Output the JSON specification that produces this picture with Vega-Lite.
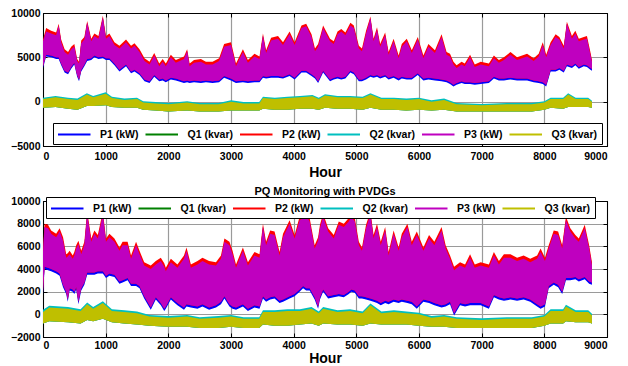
{
"$schema":"https://vega.github.io/schema/vega-lite/v6.json",
"padding":{"left":10,"top":7,"right":5,"bottom":0},
"spacing":5,
"config":{"font":"Liberation Sans","view":{"stroke":"black","strokeWidth":1},
"axis":{"labelFont":"Liberation Sans","labelFontSize":10.5,"labelFontWeight":"bold","labelColor":"black","titleFont":"Liberation Sans","titleFontSize":14,"titleFontWeight":"bold","titleColor":"black","domainColor":"black","tickColor":"black","gridColor":"#9a9a9a","gridWidth":1.2,"tickSize":-4,"labelPadding":7},
"axisX":{"labelPadding":9},
"title":{"font":"Liberation Sans","fontSize":11,"fontWeight":"bold","color":"black","offset":-1}},
"datasets":{
"tP":[{"h":0,"lo1":3800,"lo":4000,"hi":6800,"hi2":7000},{"h":50,"lo1":5100,"lo":5300,"hi":7900,"hi2":8300},{"h":130,"lo1":5000,"lo":5200,"hi":7700,"hi2":8000},{"h":210,"lo1":4800,"lo":5000,"hi":7500,"hi2":7800},{"h":250,"lo1":4800,"lo":5000,"hi":8600,"hi2":8800},{"h":290,"lo1":4100,"lo":4300,"hi":6700,"hi2":7000},{"h":345,"lo1":3300,"lo":3500,"hi":5600,"hi2":5900},{"h":400,"lo1":3100,"lo":3300,"hi":5300,"hi2":5600},{"h":450,"lo1":3700,"lo":3900,"hi":5900,"hi2":6200},{"h":500,"lo1":4200,"lo":4400,"hi":6200,"hi2":6500},{"h":545,"lo1":2800,"lo":3000,"hi":4600,"hi2":4800},{"h":575,"lo1":2300,"lo":2500,"hi":4300,"hi2":4500},{"h":610,"lo1":3400,"lo":3600,"hi":6600,"hi2":6900},{"h":660,"lo1":4000,"lo":4200,"hi":7000,"hi2":7300},{"h":705,"lo1":4600,"lo":4800,"hi":8900,"hi2":9100},{"h":770,"lo1":4700,"lo":4900,"hi":6800,"hi2":7100},{"h":820,"lo1":5000,"lo":5200,"hi":7400,"hi2":7700},{"h":885,"lo1":4800,"lo":5000,"hi":7100,"hi2":7400},{"h":955,"lo1":4900,"lo":5100,"hi":9500,"hi2":9700},{"h":1005,"lo1":4700,"lo":4900,"hi":7100,"hi2":7400},{"h":1060,"lo1":4700,"lo":4900,"hi":7400,"hi2":7700},{"h":1140,"lo1":4100,"lo":4300,"hi":6400,"hi2":6700},{"h":1220,"lo1":3400,"lo":3600,"hi":6000,"hi2":6300},{"h":1325,"lo1":4000,"lo":4200,"hi":6700,"hi2":7000},{"h":1405,"lo1":3200,"lo":3400,"hi":6000,"hi2":6300},{"h":1460,"lo1":3400,"lo":3600,"hi":6300,"hi2":6600},{"h":1540,"lo1":3000,"lo":3200,"hi":5600,"hi2":5900},{"h":1620,"lo1":2300,"lo":2500,"hi":4600,"hi2":4900},{"h":1700,"lo1":2100,"lo":2300,"hi":4200,"hi2":4500},{"h":1775,"lo1":2800,"lo":3000,"hi":5200,"hi2":5500},{"h":1855,"lo1":2300,"lo":2500,"hi":4000,"hi2":4300},{"h":1910,"lo1":2400,"lo":2600,"hi":4500,"hi2":4800},{"h":1960,"lo1":2200,"lo":2400,"hi":4000,"hi2":4300},{"h":2040,"lo1":2500,"lo":2700,"hi":5000,"hi2":5300},{"h":2120,"lo1":2400,"lo":2600,"hi":4400,"hi2":4700},{"h":2250,"lo1":2100,"lo":2300,"hi":4800,"hi2":5100},{"h":2300,"lo1":2200,"lo":2400,"hi":5700,"hi2":5900},{"h":2340,"lo1":2100,"lo":2300,"hi":4000,"hi2":4300},{"h":2410,"lo1":2200,"lo":2400,"hi":4400,"hi2":4700},{"h":2520,"lo1":2100,"lo":2300,"hi":4500,"hi2":4800},{"h":2600,"lo1":2200,"lo":2400,"hi":4200,"hi2":4500},{"h":2705,"lo1":2100,"lo":2300,"hi":4200,"hi2":4500},{"h":2810,"lo1":2200,"lo":2400,"hi":4600,"hi2":4900},{"h":2890,"lo1":2700,"lo":2900,"hi":6200,"hi2":6500},{"h":3000,"lo1":2400,"lo":2600,"hi":6400,"hi2":6700},{"h":3080,"lo1":2100,"lo":2300,"hi":4000,"hi2":4300},{"h":3190,"lo1":2200,"lo":2400,"hi":5600,"hi2":5900},{"h":3270,"lo1":2100,"lo":2300,"hi":4400,"hi2":4700},{"h":3375,"lo1":2200,"lo":2400,"hi":5100,"hi2":5400},{"h":3455,"lo1":2200,"lo":2400,"hi":4800,"hi2":5100},{"h":3510,"lo1":2700,"lo":2900,"hi":7400,"hi2":7700},{"h":3560,"lo1":2600,"lo":2800,"hi":5500,"hi2":5800},{"h":3640,"lo1":2700,"lo":2900,"hi":6900,"hi2":7200},{"h":3750,"lo1":2700,"lo":2900,"hi":7100,"hi2":7400},{"h":3830,"lo1":2600,"lo":2800,"hi":6400,"hi2":6700},{"h":3935,"lo1":2900,"lo":3100,"hi":7600,"hi2":7900},{"h":4015,"lo1":2500,"lo":2700,"hi":6400,"hi2":6700},{"h":4125,"lo1":3300,"lo":3500,"hi":8300,"hi2":8600},{"h":4200,"lo1":3300,"lo":3500,"hi":8500,"hi2":8800},{"h":4285,"lo1":2900,"lo":3100,"hi":7300,"hi2":7600},{"h":4340,"lo1":2600,"lo":2800,"hi":5700,"hi2":6000},{"h":4390,"lo1":2100,"lo":2300,"hi":6200,"hi2":6500},{"h":4470,"lo1":3300,"lo":3500,"hi":8300,"hi2":8600},{"h":4580,"lo1":2300,"lo":2500,"hi":6800,"hi2":7100},{"h":4640,"lo1":2500,"lo":2700,"hi":6500,"hi2":6800},{"h":4700,"lo1":2600,"lo":2800,"hi":7600,"hi2":7900},{"h":4760,"lo1":2500,"lo":2700,"hi":7900,"hi2":8200},{"h":4825,"lo1":2600,"lo":2800,"hi":7500,"hi2":7800},{"h":4905,"lo1":3300,"lo":3500,"hi":8600,"hi2":8900},{"h":4960,"lo1":3100,"lo":3300,"hi":8300,"hi2":8600},{"h":5040,"lo1":2300,"lo":2500,"hi":6000,"hi2":6300},{"h":5090,"lo1":2300,"lo":2500,"hi":5700,"hi2":6000},{"h":5155,"lo1":2500,"lo":2700,"hi":7700,"hi2":8000},{"h":5225,"lo1":2800,"lo":3000,"hi":9400,"hi2":9600},{"h":5275,"lo1":2700,"lo":2900,"hi":6800,"hi2":7100},{"h":5330,"lo1":2800,"lo":3000,"hi":8100,"hi2":8400},{"h":5380,"lo1":2600,"lo":2800,"hi":6200,"hi2":6500},{"h":5460,"lo1":2800,"lo":3000,"hi":7500,"hi2":7800},{"h":5515,"lo1":2500,"lo":2700,"hi":5300,"hi2":5600},{"h":5595,"lo1":2700,"lo":2900,"hi":6800,"hi2":7100},{"h":5675,"lo1":2400,"lo":2600,"hi":4900,"hi2":5200},{"h":5725,"lo1":2600,"lo":2800,"hi":6200,"hi2":6500},{"h":5805,"lo1":2500,"lo":2700,"hi":6800,"hi2":7100},{"h":5885,"lo1":2500,"lo":2700,"hi":5500,"hi2":5800},{"h":5980,"lo1":3000,"lo":3200,"hi":7000,"hi2":7300},{"h":6070,"lo1":2400,"lo":2600,"hi":4900,"hi2":5200},{"h":6150,"lo1":2500,"lo":2700,"hi":6200,"hi2":6500},{"h":6255,"lo1":2400,"lo":2600,"hi":5500,"hi2":5800},{"h":6360,"lo1":2300,"lo":2500,"hi":7300,"hi2":7600},{"h":6440,"lo1":2200,"lo":2400,"hi":5300,"hi2":5600},{"h":6495,"lo1":2000,"lo":2200,"hi":5100,"hi2":5400},{"h":6550,"lo1":1700,"lo":1900,"hi":4200,"hi2":4500},{"h":6600,"lo1":1900,"lo":2100,"hi":3800,"hi2":4100},{"h":6680,"lo1":2100,"lo":2300,"hi":4200,"hi2":4500},{"h":6730,"lo1":2000,"lo":2200,"hi":4000,"hi2":4300},{"h":6815,"lo1":2000,"lo":2200,"hi":5000,"hi2":5300},{"h":6890,"lo1":1900,"lo":2100,"hi":3900,"hi2":4200},{"h":6985,"lo1":2000,"lo":2200,"hi":4200,"hi2":4500},{"h":7115,"lo1":2100,"lo":2300,"hi":4000,"hi2":4300},{"h":7195,"lo1":2600,"lo":2800,"hi":4900,"hi2":5200},{"h":7275,"lo1":2400,"lo":2600,"hi":4400,"hi2":4700},{"h":7355,"lo1":2400,"lo":2600,"hi":4700,"hi2":5000},{"h":7460,"lo1":2500,"lo":2700,"hi":5300,"hi2":5600},{"h":7565,"lo1":2400,"lo":2600,"hi":4700,"hi2":5000},{"h":7725,"lo1":2400,"lo":2600,"hi":5100,"hi2":5400},{"h":7830,"lo1":2200,"lo":2400,"hi":4600,"hi2":4900},{"h":7910,"lo1":2100,"lo":2300,"hi":5100,"hi2":5400},{"h":7975,"lo1":2000,"lo":2200,"hi":6400,"hi2":6700},{"h":8030,"lo1":1700,"lo":1900,"hi":5000,"hi2":5300},{"h":8100,"lo1":3400,"lo":3600,"hi":6400,"hi2":6700},{"h":8180,"lo1":3400,"lo":3600,"hi":7300,"hi2":7600},{"h":8240,"lo1":3600,"lo":3800,"hi":7000,"hi2":7300},{"h":8310,"lo1":3300,"lo":3500,"hi":6000,"hi2":6300},{"h":8360,"lo1":4000,"lo":4200,"hi":8800,"hi2":9000},{"h":8440,"lo1":3800,"lo":4000,"hi":7100,"hi2":7400},{"h":8495,"lo1":4100,"lo":4300,"hi":7700,"hi2":8000},{"h":8550,"lo1":3700,"lo":3900,"hi":6800,"hi2":7100},{"h":8630,"lo1":4000,"lo":4200,"hi":7000,"hi2":7300},{"h":8680,"lo1":3900,"lo":4100,"hi":7100,"hi2":7400},{"h":8735,"lo1":3600,"lo":3800,"hi":5300,"hi2":5600},{"h":8760,"lo1":3500,"lo":3700,"hi":4500,"hi2":4700}],
"tQ":[{"h":0,"qlo":-700,"qhi":300,"qhi2":450},{"h":200,"qlo":-600,"qhi":500,"qhi2":650},{"h":400,"qlo":-800,"qhi":300,"qhi2":450},{"h":550,"qlo":-900,"qhi":200,"qhi2":350},{"h":700,"qlo":-500,"qhi":800,"qhi2":950},{"h":800,"qlo":-500,"qhi":500,"qhi2":650},{"h":1000,"qlo":-400,"qhi":900,"qhi2":1050},{"h":1100,"qlo":-600,"qhi":400,"qhi2":550},{"h":1300,"qlo":-700,"qhi":200,"qhi2":350},{"h":1500,"qlo":-700,"qhi":300,"qhi2":450},{"h":1600,"qlo":-900,"qhi":-100,"qhi2":50},{"h":1800,"qlo":-1000,"qhi":-200,"qhi2":-50},{"h":2000,"qlo":-1100,"qhi":-300,"qhi2":-150},{"h":2300,"qlo":-1000,"qhi":-100,"qhi2":50},{"h":2500,"qlo":-1100,"qhi":-300,"qhi2":-150},{"h":2800,"qlo":-1100,"qhi":-300,"qhi2":-150},{"h":3000,"qlo":-1000,"qhi":0,"qhi2":150},{"h":3200,"qlo":-1000,"qhi":-200,"qhi2":-50},{"h":3450,"qlo":-1000,"qhi":-200,"qhi2":-50},{"h":3510,"qlo":-800,"qhi":400,"qhi2":550},{"h":3700,"qlo":-900,"qhi":300,"qhi2":450},{"h":3900,"qlo":-900,"qhi":400,"qhi2":550},{"h":4100,"qlo":-800,"qhi":500,"qhi2":650},{"h":4300,"qlo":-800,"qhi":600,"qhi2":750},{"h":4400,"qlo":-900,"qhi":300,"qhi2":450},{"h":4500,"qlo":-700,"qhi":700,"qhi2":850},{"h":4700,"qlo":-800,"qhi":500,"qhi2":650},{"h":4900,"qlo":-800,"qhi":500,"qhi2":650},{"h":5100,"qlo":-900,"qhi":400,"qhi2":550},{"h":5225,"qlo":-700,"qhi":800,"qhi2":950},{"h":5400,"qlo":-900,"qhi":300,"qhi2":450},{"h":5600,"qlo":-900,"qhi":300,"qhi2":450},{"h":5800,"qlo":-1000,"qhi":200,"qhi2":350},{"h":6000,"qlo":-900,"qhi":300,"qhi2":450},{"h":6200,"qlo":-1000,"qhi":0,"qhi2":150},{"h":6400,"qlo":-900,"qhi":200,"qhi2":350},{"h":6600,"qlo":-1100,"qhi":-300,"qhi2":-150},{"h":7000,"qlo":-1100,"qhi":-400,"qhi2":-250},{"h":7400,"qlo":-1100,"qhi":-300,"qhi2":-150},{"h":7800,"qlo":-1100,"qhi":-300,"qhi2":-150},{"h":8000,"qlo":-900,"qhi":-100,"qhi2":50},{"h":8100,"qlo":-700,"qhi":300,"qhi2":450},{"h":8300,"qlo":-800,"qhi":300,"qhi2":450},{"h":8380,"qlo":-600,"qhi":800,"qhi2":950},{"h":8500,"qlo":-600,"qhi":300,"qhi2":450},{"h":8700,"qlo":-600,"qhi":300,"qhi2":450},{"h":8760,"qlo":-700,"qhi":0,"qhi2":100}],
"bP":[{"h":0,"lo1":1800,"lo":2000,"hi":5500,"hi2":5800},{"h":25,"lo1":4000,"lo":4200,"hi":7700,"hi2":8000},{"h":80,"lo1":3900,"lo":4100,"hi":7600,"hi2":7900},{"h":130,"lo1":3800,"lo":4000,"hi":7100,"hi2":7400},{"h":210,"lo1":3600,"lo":3800,"hi":6800,"hi2":7100},{"h":265,"lo1":3400,"lo":3600,"hi":7300,"hi2":7600},{"h":320,"lo1":2400,"lo":2600,"hi":6500,"hi2":6800},{"h":370,"lo1":1800,"lo":2000,"hi":5000,"hi2":5300},{"h":395,"lo1":1100,"lo":1300,"hi":5100,"hi2":5400},{"h":425,"lo1":2100,"lo":2300,"hi":5300,"hi2":5600},{"h":475,"lo1":2000,"lo":2200,"hi":4900,"hi2":5200},{"h":500,"lo1":1800,"lo":2000,"hi":5200,"hi2":5500},{"h":530,"lo1":2200,"lo":2400,"hi":5800,"hi2":6100},{"h":565,"lo1":900,"lo":1100,"hi":6200,"hi2":6500},{"h":610,"lo1":2100,"lo":2300,"hi":5300,"hi2":5600},{"h":660,"lo1":2600,"lo":2800,"hi":6100,"hi2":6400},{"h":705,"lo1":3500,"lo":3700,"hi":8800,"hi2":9100},{"h":770,"lo1":3500,"lo":3700,"hi":6400,"hi2":6700},{"h":820,"lo1":3500,"lo":3700,"hi":7100,"hi2":7400},{"h":875,"lo1":3600,"lo":3800,"hi":6700,"hi2":7000},{"h":955,"lo1":3600,"lo":3800,"hi":8800,"hi2":9100},{"h":1005,"lo1":3200,"lo":3400,"hi":6400,"hi2":6700},{"h":1060,"lo1":3400,"lo":3600,"hi":6800,"hi2":7100},{"h":1140,"lo1":3300,"lo":3500,"hi":6400,"hi2":6700},{"h":1220,"lo1":2700,"lo":2900,"hi":5600,"hi2":5900},{"h":1270,"lo1":2800,"lo":3000,"hi":6100,"hi2":6400},{"h":1350,"lo1":3000,"lo":3200,"hi":6100,"hi2":6400},{"h":1405,"lo1":2500,"lo":2700,"hi":4900,"hi2":5200},{"h":1485,"lo1":2500,"lo":2700,"hi":6100,"hi2":6400},{"h":1540,"lo1":2300,"lo":2500,"hi":5300,"hi2":5600},{"h":1615,"lo1":1400,"lo":1600,"hi":4300,"hi2":4600},{"h":1720,"lo1":400,"lo":600,"hi":4000,"hi2":4300},{"h":1800,"lo1":1300,"lo":1500,"hi":4400,"hi2":4700},{"h":1880,"lo1":800,"lo":1000,"hi":4700,"hi2":5000},{"h":1935,"lo1":300,"lo":500,"hi":4200,"hi2":4500},{"h":1960,"lo1":500,"lo":700,"hi":3800,"hi2":4100},{"h":2040,"lo1":1300,"lo":1500,"hi":4600,"hi2":4900},{"h":2145,"lo1":800,"lo":1000,"hi":4100,"hi2":4400},{"h":2250,"lo1":400,"lo":600,"hi":4900,"hi2":5200},{"h":2290,"lo1":700,"lo":900,"hi":5600,"hi2":5900},{"h":2360,"lo1":600,"lo":800,"hi":4100,"hi2":4400},{"h":2465,"lo1":500,"lo":700,"hi":4400,"hi2":4700},{"h":2545,"lo1":700,"lo":900,"hi":4700,"hi2":5000},{"h":2650,"lo1":400,"lo":600,"hi":4400,"hi2":4700},{"h":2760,"lo1":600,"lo":800,"hi":4300,"hi2":4600},{"h":2840,"lo1":900,"lo":1100,"hi":4900,"hi2":5200},{"h":2895,"lo1":1400,"lo":1600,"hi":6400,"hi2":6700},{"h":2975,"lo1":700,"lo":900,"hi":6100,"hi2":6400},{"h":3025,"lo1":500,"lo":700,"hi":5300,"hi2":5600},{"h":3080,"lo1":400,"lo":600,"hi":4100,"hi2":4400},{"h":3190,"lo1":700,"lo":900,"hi":5600,"hi2":5900},{"h":3270,"lo1":300,"lo":500,"hi":4300,"hi2":4600},{"h":3375,"lo1":600,"lo":800,"hi":5200,"hi2":5500},{"h":3455,"lo1":500,"lo":700,"hi":5000,"hi2":5300},{"h":3510,"lo1":1400,"lo":1600,"hi":7700,"hi2":8000},{"h":3560,"lo1":1100,"lo":1300,"hi":6100,"hi2":6400},{"h":3625,"lo1":1300,"lo":1500,"hi":7100,"hi2":7400},{"h":3695,"lo1":1400,"lo":1600,"hi":7000,"hi2":7300},{"h":3775,"lo1":1000,"lo":1200,"hi":5200,"hi2":5500},{"h":3830,"lo1":1100,"lo":1300,"hi":6800,"hi2":7100},{"h":3935,"lo1":1400,"lo":1600,"hi":8000,"hi2":8300},{"h":4015,"lo1":1600,"lo":1800,"hi":6700,"hi2":7000},{"h":4095,"lo1":2000,"lo":2200,"hi":8300,"hi2":8600},{"h":4150,"lo1":2300,"lo":2500,"hi":8500,"hi2":8800},{"h":4200,"lo1":2100,"lo":2300,"hi":8700,"hi2":9000},{"h":4255,"lo1":2100,"lo":2300,"hi":8200,"hi2":8500},{"h":4335,"lo1":1300,"lo":1500,"hi":5800,"hi2":6100},{"h":4390,"lo1":500,"lo":700,"hi":6500,"hi2":6800},{"h":4420,"lo1":1300,"lo":1500,"hi":7600,"hi2":7900},{"h":4470,"lo1":2000,"lo":2200,"hi":8600,"hi2":8900},{"h":4550,"lo1":1400,"lo":1600,"hi":7300,"hi2":7600},{"h":4640,"lo1":1500,"lo":1700,"hi":6700,"hi2":7000},{"h":4720,"lo1":1600,"lo":1800,"hi":7900,"hi2":8200},{"h":4800,"lo1":1500,"lo":1700,"hi":7700,"hi2":8000},{"h":4880,"lo1":1800,"lo":2000,"hi":8200,"hi2":8500},{"h":4920,"lo1":2000,"lo":2200,"hi":8600,"hi2":8900},{"h":4975,"lo1":1900,"lo":2100,"hi":8200,"hi2":8500},{"h":5040,"lo1":1400,"lo":1600,"hi":6100,"hi2":6400},{"h":5090,"lo1":1400,"lo":1600,"hi":5600,"hi2":5900},{"h":5155,"lo1":1300,"lo":1500,"hi":7600,"hi2":7900},{"h":5225,"lo1":1200,"lo":1400,"hi":8800,"hi2":9100},{"h":5275,"lo1":1100,"lo":1300,"hi":6700,"hi2":7000},{"h":5330,"lo1":1000,"lo":1200,"hi":7700,"hi2":8000},{"h":5390,"lo1":800,"lo":1000,"hi":6100,"hi2":6400},{"h":5460,"lo1":1000,"lo":1200,"hi":7400,"hi2":7700},{"h":5515,"lo1":900,"lo":1100,"hi":5200,"hi2":5500},{"h":5595,"lo1":1100,"lo":1300,"hi":7100,"hi2":7400},{"h":5675,"lo1":1000,"lo":1200,"hi":5600,"hi2":5900},{"h":5725,"lo1":1100,"lo":1300,"hi":6800,"hi2":7100},{"h":5815,"lo1":1000,"lo":1200,"hi":7700,"hi2":8000},{"h":5885,"lo1":900,"lo":1100,"hi":6100,"hi2":6400},{"h":5965,"lo1":500,"lo":700,"hi":7000,"hi2":7300},{"h":6070,"lo1":1100,"lo":1300,"hi":5600,"hi2":5900},{"h":6160,"lo1":1000,"lo":1200,"hi":6700,"hi2":7000},{"h":6245,"lo1":800,"lo":1000,"hi":6100,"hi2":6400},{"h":6360,"lo1":600,"lo":800,"hi":7400,"hi2":7700},{"h":6425,"lo1":700,"lo":900,"hi":5800,"hi2":6100},{"h":6495,"lo1":900,"lo":1100,"hi":4900,"hi2":5200},{"h":6560,"lo1":-100,"lo":100,"hi":3900,"hi2":4200},{"h":6655,"lo1":800,"lo":1000,"hi":4300,"hi2":4600},{"h":6735,"lo1":700,"lo":900,"hi":4100,"hi2":4400},{"h":6815,"lo1":800,"lo":1000,"hi":5000,"hi2":5300},{"h":6890,"lo1":800,"lo":1000,"hi":4100,"hi2":4400},{"h":6985,"lo1":800,"lo":1000,"hi":4300,"hi2":4600},{"h":7115,"lo1":500,"lo":700,"hi":4100,"hi2":4400},{"h":7195,"lo1":1500,"lo":1700,"hi":5200,"hi2":5500},{"h":7275,"lo1":1300,"lo":1500,"hi":4400,"hi2":4700},{"h":7355,"lo1":1200,"lo":1400,"hi":5000,"hi2":5300},{"h":7460,"lo1":1300,"lo":1500,"hi":5000,"hi2":5300},{"h":7565,"lo1":1200,"lo":1400,"hi":4700,"hi2":5000},{"h":7670,"lo1":1300,"lo":1500,"hi":4900,"hi2":5200},{"h":7775,"lo1":1100,"lo":1300,"hi":4600,"hi2":4900},{"h":7885,"lo1":700,"lo":900,"hi":4900,"hi2":5200},{"h":7940,"lo1":500,"lo":700,"hi":5500,"hi2":5800},{"h":8010,"lo1":700,"lo":900,"hi":4700,"hi2":5000},{"h":8070,"lo1":2300,"lo":2500,"hi":5800,"hi2":6100},{"h":8150,"lo1":2600,"lo":2800,"hi":7100,"hi2":7400},{"h":8220,"lo1":2400,"lo":2600,"hi":7000,"hi2":7300},{"h":8285,"lo1":1800,"lo":2000,"hi":5800,"hi2":6100},{"h":8345,"lo1":3000,"lo":3200,"hi":8300,"hi2":8600},{"h":8415,"lo1":3000,"lo":3200,"hi":7300,"hi2":7600},{"h":8495,"lo1":3100,"lo":3300,"hi":6700,"hi2":7000},{"h":8550,"lo1":2900,"lo":3100,"hi":6400,"hi2":6700},{"h":8645,"lo1":3100,"lo":3300,"hi":7600,"hi2":7900},{"h":8715,"lo1":2700,"lo":2900,"hi":5800,"hi2":6100},{"h":8760,"lo1":2600,"lo":2800,"hi":4300,"hi2":4600}],
"bQ":[{"h":0,"qlo":-800,"qhi":200,"qhi2":400},{"h":100,"qlo":-600,"qhi":600,"qhi2":750},{"h":400,"qlo":-700,"qhi":500,"qhi2":650},{"h":600,"qlo":-800,"qhi":300,"qhi2":450},{"h":705,"qlo":-500,"qhi":900,"qhi2":1050},{"h":800,"qlo":-600,"qhi":500,"qhi2":650},{"h":955,"qlo":-400,"qhi":1000,"qhi2":1150},{"h":1100,"qlo":-700,"qhi":300,"qhi2":450},{"h":1300,"qlo":-800,"qhi":200,"qhi2":350},{"h":1500,"qlo":-900,"qhi":100,"qhi2":250},{"h":1700,"qlo":-1000,"qhi":-200,"qhi2":-50},{"h":2000,"qlo":-1100,"qhi":-300,"qhi2":-150},{"h":2300,"qlo":-1100,"qhi":-200,"qhi2":-50},{"h":2500,"qlo":-1200,"qhi":-400,"qhi2":-250},{"h":2800,"qlo":-1200,"qhi":-300,"qhi2":-150},{"h":3000,"qlo":-1100,"qhi":-200,"qhi2":-50},{"h":3200,"qlo":-1200,"qhi":-400,"qhi2":-250},{"h":3450,"qlo":-1200,"qhi":-400,"qhi2":-250},{"h":3510,"qlo":-900,"qhi":200,"qhi2":350},{"h":3700,"qlo":-1000,"qhi":200,"qhi2":350},{"h":3900,"qlo":-1000,"qhi":300,"qhi2":450},{"h":4100,"qlo":-900,"qhi":300,"qhi2":450},{"h":4285,"qlo":-800,"qhi":500,"qhi2":650},{"h":4400,"qlo":-1000,"qhi":100,"qhi2":250},{"h":4470,"qlo":-800,"qhi":500,"qhi2":650},{"h":4700,"qlo":-900,"qhi":200,"qhi2":350},{"h":4900,"qlo":-900,"qhi":300,"qhi2":450},{"h":5100,"qlo":-1000,"qhi":100,"qhi2":250},{"h":5225,"qlo":-800,"qhi":800,"qhi2":950},{"h":5400,"qlo":-900,"qhi":100,"qhi2":250},{"h":5600,"qlo":-900,"qhi":200,"qhi2":350},{"h":5800,"qlo":-900,"qhi":100,"qhi2":250},{"h":6000,"qlo":-1000,"qhi":0,"qhi2":150},{"h":6200,"qlo":-1100,"qhi":-300,"qhi2":-150},{"h":6400,"qlo":-1100,"qhi":-200,"qhi2":-50},{"h":6600,"qlo":-1200,"qhi":-400,"qhi2":-250},{"h":7000,"qlo":-1200,"qhi":-500,"qhi2":-350},{"h":7400,"qlo":-1200,"qhi":-400,"qhi2":-250},{"h":7800,"qlo":-1200,"qhi":-400,"qhi2":-250},{"h":8000,"qlo":-1000,"qhi":-200,"qhi2":-50},{"h":8100,"qlo":-800,"qhi":300,"qhi2":450},{"h":8300,"qlo":-800,"qhi":300,"qhi2":450},{"h":8345,"qlo":-600,"qhi":700,"qhi2":850},{"h":8500,"qlo":-700,"qhi":200,"qhi2":350},{"h":8700,"qlo":-700,"qhi":200,"qhi2":350},{"h":8760,"qlo":-800,"qhi":-100,"qhi2":50}]
},
"resolve":{"scale":{"color":"independent"},"legend":{"color":"independent"}},
"vconcat":[
{"name":"top","width":564,"height":133,
"resolve":{"axis":{"x":"independent","y":"independent"}},
"layer":[
{"data":{"name":"tP"},"mark":{"type":"point","opacity":0},
"encoding":{"x":{"field":"h","type":"quantitative","scale":{"domain":[0,9000],"nice":false},"axis":{"values":[0,1000,2000,3000,4000,5000,6000,7000,8000,9000],"format":"d","grid":true,"title":"Hour","titlePadding":4}},
"y":{"field":"hi","type":"quantitative","scale":{"domain":[-5000,10000],"nice":false},"axis":{"values":[-5000,0,5000,10000],"format":"d","grid":true,"title":null}}}},
{"data":{"name":"tP"},"mark":{"type":"point","opacity":0},
"encoding":{"x":{"field":"h","type":"quantitative","scale":{"domain":[0,9000],"nice":false},"axis":{"orient":"top","values":[0,1000,2000,3000,4000,5000,6000,7000,8000,9000],"grid":false,"labels":false,"title":null}},
"y":{"field":"hi","type":"quantitative","scale":{"domain":[-5000,10000],"nice":false},"axis":{"orient":"right","values":[-5000,0,5000,10000],"grid":false,"labels":false,"title":null}}}},
{"data":{"name":"tP"},"mark":{"type":"area"},"encoding":{"x":{"field":"h","type":"quantitative","scale":{"domain":[0,9000],"nice":false},"axis":null},"y":{"field":"lo1","type":"quantitative","scale":{"domain":[-5000,10000],"nice":false},"axis":null},"y2":{"field":"hi"},
"color":{"datum":"P1 (kW)","type":"nominal","scale":{"domain":["P1 (kW)","Q1 (kvar)","P2 (kW)","Q2 (kvar)","P3 (kW)","Q3 (kvar)"],"range":["#0000ff","#008000","#ff0000","#00bfbf","#bf00bf","#bfbf00"]},
"legend":{"orient":"none","legendX":10,"legendY":110,"direction":"horizontal","columns":6,"title":null,"symbolType":"M-1,0L4,0","symbolSize":169,"symbolStrokeWidth":2,"labelFont":"Liberation Sans","labelFontSize":10.5,"labelFontWeight":"bold","labelColor":"black","labelOffset":28,"columnPadding":2.5,"strokeColor":"black","fillColor":"white","padding":4,"encode":{"symbols":{"update":{"stroke":{"scale":"top_color","field":"value"},"strokeWidth":{"value":2}}}}}}}},
{"data":{"name":"tP"},"mark":{"type":"area"},"encoding":{"x":{"field":"h","type":"quantitative","scale":{"domain":[0,9000],"nice":false},"axis":null},"y":{"field":"lo","type":"quantitative","scale":{"domain":[-5000,10000],"nice":false},"axis":null},"y2":{"field":"hi2"},"color":{"datum":"P2 (kW)","type":"nominal"}}},
{"data":{"name":"tP"},"mark":{"type":"area"},"encoding":{"x":{"field":"h","type":"quantitative","scale":{"domain":[0,9000],"nice":false},"axis":null},"y":{"field":"lo","type":"quantitative","scale":{"domain":[-5000,10000],"nice":false},"axis":null},"y2":{"field":"hi"},"color":{"datum":"P3 (kW)","type":"nominal"}}},
{"data":{"name":"tQ"},"mark":{"type":"area"},"encoding":{"x":{"field":"h","type":"quantitative","scale":{"domain":[0,9000],"nice":false},"axis":null},"y":{"field":"qlo","type":"quantitative","scale":{"domain":[-5000,10000],"nice":false},"axis":null},"y2":{"field":"qhi"},"color":{"datum":"Q1 (kvar)","type":"nominal"}}},
{"data":{"name":"tQ"},"mark":{"type":"area"},"encoding":{"x":{"field":"h","type":"quantitative","scale":{"domain":[0,9000],"nice":false},"axis":null},"y":{"field":"qlo","type":"quantitative","scale":{"domain":[-5000,10000],"nice":false},"axis":null},"y2":{"field":"qhi2"},"color":{"datum":"Q2 (kvar)","type":"nominal"}}},
{"data":{"name":"tQ"},"mark":{"type":"area"},"encoding":{"x":{"field":"h","type":"quantitative","scale":{"domain":[0,9000],"nice":false},"axis":null},"y":{"field":"qlo","type":"quantitative","scale":{"domain":[-5000,10000],"nice":false},"axis":null},"y2":{"field":"qhi"},"color":{"datum":"Q3 (kvar)","type":"nominal"}}}
]},
{"name":"bot","width":564,"height":136,"title":"PQ Monitoring with PVDGs",
"resolve":{"axis":{"x":"independent","y":"independent"}},
"layer":[
{"data":{"name":"bP"},"mark":{"type":"point","opacity":0},
"encoding":{"x":{"field":"h","type":"quantitative","scale":{"domain":[0,9000],"nice":false},"axis":{"values":[0,1000,2000,3000,4000,5000,6000,7000,8000,9000],"format":"d","grid":true,"title":"Hour","titlePadding":1,"labelPadding":7}},
"y":{"field":"hi","type":"quantitative","scale":{"domain":[-2000,10000],"nice":false},"axis":{"values":[-2000,0,2000,4000,6000,8000,10000],"format":"d","grid":true,"title":null}}}},
{"data":{"name":"bP"},"mark":{"type":"point","opacity":0},
"encoding":{"x":{"field":"h","type":"quantitative","scale":{"domain":[0,9000],"nice":false},"axis":{"orient":"top","values":[0,1000,2000,3000,4000,5000,6000,7000,8000,9000],"grid":false,"labels":false,"title":null}},
"y":{"field":"hi","type":"quantitative","scale":{"domain":[-2000,10000],"nice":false},"axis":{"orient":"right","values":[-2000,0,2000,4000,6000,8000,10000],"grid":false,"labels":false,"title":null}}}},
{"data":{"name":"bP"},"mark":{"type":"area"},"encoding":{"x":{"field":"h","type":"quantitative","scale":{"domain":[0,9000],"nice":false},"axis":null},"y":{"field":"lo1","type":"quantitative","scale":{"domain":[-2000,10000],"nice":false},"axis":null},"y2":{"field":"hi"},
"color":{"datum":"P1 (kW)","type":"nominal","scale":{"domain":["P1 (kW)","Q1 (kvar)","P2 (kW)","Q2 (kvar)","P3 (kW)","Q3 (kvar)"],"range":["#0000ff","#008000","#ff0000","#00bfbf","#bf00bf","#bfbf00"]},
"legend":{"orient":"none","legendX":3,"legendY":-4,"direction":"horizontal","columns":6,"title":null,"symbolType":"M-1,0L4,0","symbolSize":169,"symbolStrokeWidth":2,"labelFont":"Liberation Sans","labelFontSize":10.5,"labelFontWeight":"bold","labelColor":"black","labelOffset":28,"columnPadding":2.5,"strokeColor":"black","fillColor":"white","padding":4,"encode":{"symbols":{"update":{"stroke":{"scale":"bot_color","field":"value"},"strokeWidth":{"value":2}}}}}}}},
{"data":{"name":"bP"},"mark":{"type":"area"},"encoding":{"x":{"field":"h","type":"quantitative","scale":{"domain":[0,9000],"nice":false},"axis":null},"y":{"field":"lo","type":"quantitative","scale":{"domain":[-2000,10000],"nice":false},"axis":null},"y2":{"field":"hi2"},"color":{"datum":"P2 (kW)","type":"nominal"}}},
{"data":{"name":"bP"},"mark":{"type":"area"},"encoding":{"x":{"field":"h","type":"quantitative","scale":{"domain":[0,9000],"nice":false},"axis":null},"y":{"field":"lo","type":"quantitative","scale":{"domain":[-2000,10000],"nice":false},"axis":null},"y2":{"field":"hi"},"color":{"datum":"P3 (kW)","type":"nominal"}}},
{"data":{"name":"bQ"},"mark":{"type":"area"},"encoding":{"x":{"field":"h","type":"quantitative","scale":{"domain":[0,9000],"nice":false},"axis":null},"y":{"field":"qlo","type":"quantitative","scale":{"domain":[-2000,10000],"nice":false},"axis":null},"y2":{"field":"qhi"},"color":{"datum":"Q1 (kvar)","type":"nominal"}}},
{"data":{"name":"bQ"},"mark":{"type":"area"},"encoding":{"x":{"field":"h","type":"quantitative","scale":{"domain":[0,9000],"nice":false},"axis":null},"y":{"field":"qlo","type":"quantitative","scale":{"domain":[-2000,10000],"nice":false},"axis":null},"y2":{"field":"qhi2"},"color":{"datum":"Q2 (kvar)","type":"nominal"}}},
{"data":{"name":"bQ"},"mark":{"type":"area"},"encoding":{"x":{"field":"h","type":"quantitative","scale":{"domain":[0,9000],"nice":false},"axis":null},"y":{"field":"qlo","type":"quantitative","scale":{"domain":[-2000,10000],"nice":false},"axis":null},"y2":{"field":"qhi"},"color":{"datum":"Q3 (kvar)","type":"nominal"}}}
]}
]
}
